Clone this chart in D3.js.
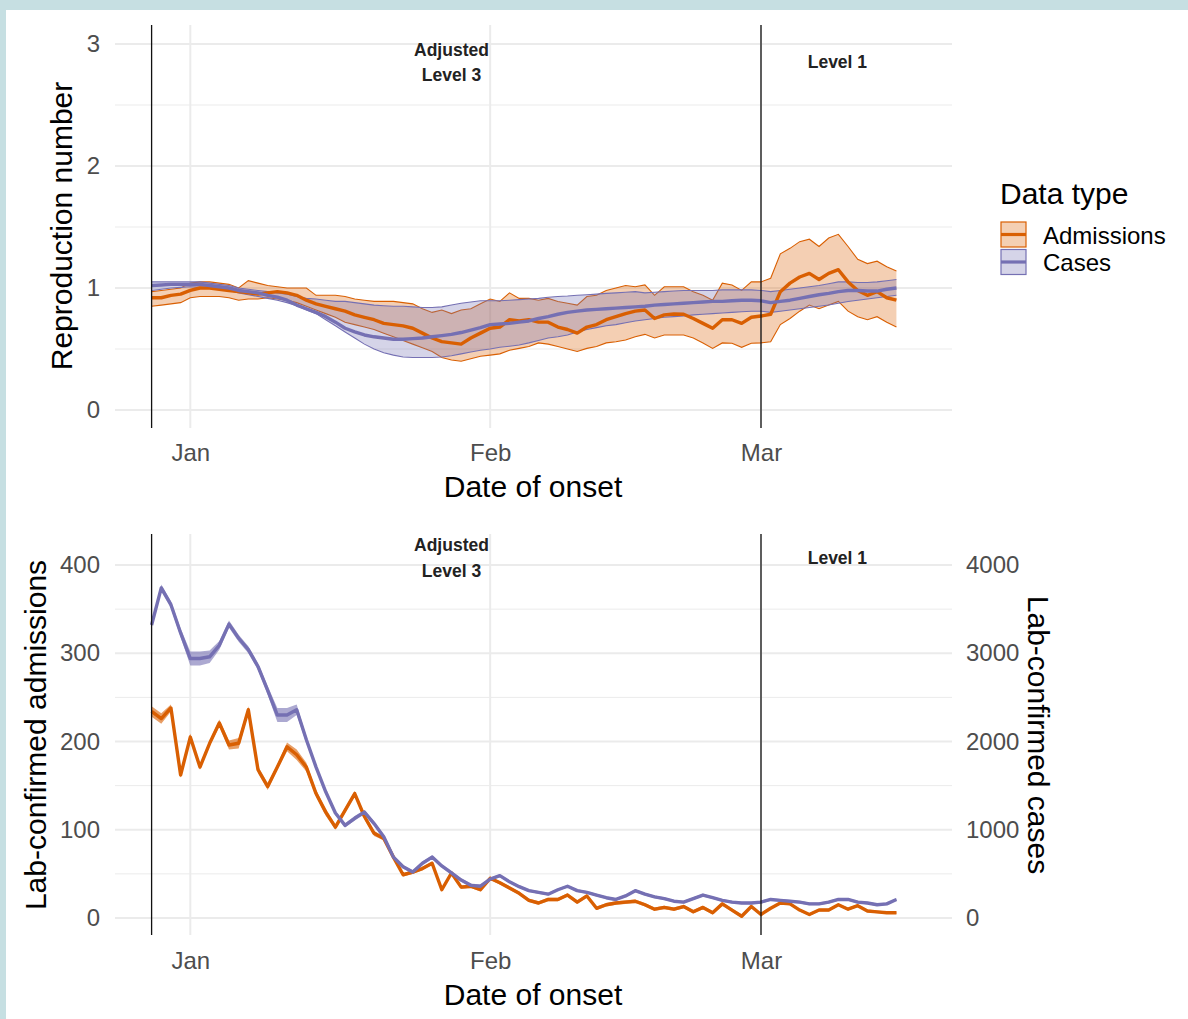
<!DOCTYPE html>
<html><head><meta charset="utf-8">
<script src="https://cdn.jsdelivr.net/npm/d3@7"></script>
<style>
html,body{margin:0;padding:0;background:#c6dfe2;}
svg{display:block;font-family:"Liberation Sans",Arial,sans-serif;}
</style></head><body>
<svg id="c" width="1188" height="1019"></svg>
<script>
// ---------------- data ----------------
const firstDay = "2020-12-28";           // daily series, Dec 28 .. Mar 15
const seriesNames = ["Admissions", "Cases"];
const seriesColors = ["#d95f02", "#7570b3"];
const monthTicks = ["2021-01-01", "2021-02-01", "2021-03-01"];
const monthLabels = ["Jan", "Feb", "Mar"];
const changeDates = ["2020-12-28", "2021-03-01"];
const phaseLabels = [["Adjusted", "Level 3"], ["Level 1"]];
const phaseDates = ["2021-01-28", "2021-03-09"];
const rTicks = [0, 1, 2, 3];
const admTicks = [0, 100, 200, 300, 400];
const caseTicks = [0, 1000, 2000, 3000, 4000];

// Reproduction number from admissions (median, lower, upper)
const admR = [0.92,0.92,0.94,0.95,
 0.98,1.00,1.00,0.99,0.98,0.97,0.96,0.95,0.96,0.97,0.96,0.94,0.90,0.87,0.85,0.83,0.81,0.78,0.76,0.74,0.71,0.70,0.69,0.67,0.63,0.59,0.56,0.55,0.54,0.59,0.63,
 0.67,0.68,0.74,0.73,0.74,0.72,0.72,0.68,0.66,0.63,0.68,0.70,0.74,0.765,0.79,0.81,0.82,0.75,0.78,0.787,0.785,0.75,0.71,0.67,0.74,0.74,0.71,0.76,
 0.77,0.785,0.97,1.04,1.09,1.12,1.07,1.12,1.15,1.05,0.98,0.94,0.97,0.92,0.90];
const admRlo = [0.85,0.86,0.87,0.88,
 0.92,0.93,0.93,0.93,0.92,0.90,0.91,0.91,0.92,0.91,0.90,0.88,0.85,0.82,0.79,0.76,0.72,0.70,0.68,0.66,0.63,0.60,0.57,0.54,0.51,0.48,0.43,0.41,0.40,0.42,0.44,
 0.45,0.46,0.49,0.505,0.52,0.55,0.54,0.52,0.50,0.48,0.505,0.52,0.55,0.56,0.574,0.60,0.62,0.59,0.615,0.615,0.615,0.59,0.55,0.505,0.55,0.547,0.514,0.547,
 0.55,0.56,0.70,0.75,0.81,0.86,0.83,0.86,0.89,0.81,0.765,0.74,0.765,0.72,0.68];
const admRhi = [0.97,0.98,0.99,1.00,
 1.04,1.05,1.05,1.04,1.03,1.00,1.06,1.04,1.02,1.01,1.00,1.00,1.00,0.94,0.94,0.94,0.93,0.91,0.90,0.89,0.89,0.89,0.88,0.87,0.83,0.80,0.82,0.79,0.82,0.83,0.87,
 0.91,0.89,0.96,0.915,0.915,0.90,0.915,0.89,0.875,0.86,0.93,0.94,0.98,1.00,1.02,1.01,1.025,0.94,1.01,1.01,1.01,0.97,0.94,0.90,1.04,1.025,0.98,1.05,
 1.05,1.08,1.28,1.325,1.38,1.40,1.34,1.41,1.44,1.34,1.235,1.20,1.22,1.175,1.14];

// Reproduction number from cases (median, lower, upper)
const caseR = [1.02,1.025,1.03,1.03,
 1.03,1.03,1.02,1.01,1.00,0.98,0.97,0.96,0.94,0.925,0.90,0.86,0.83,0.80,0.765,0.72,0.67,0.64,0.615,0.60,0.59,0.58,0.58,0.585,0.59,0.60,0.61,0.62,0.635,0.655,0.675,
 0.70,0.705,0.71,0.72,0.73,0.75,0.765,0.785,0.80,0.81,0.82,0.825,0.83,0.835,0.84,0.845,0.85,0.86,0.865,0.87,0.875,0.88,0.885,0.89,0.89,0.895,0.90,0.90,
 0.895,0.88,0.89,0.90,0.915,0.93,0.945,0.956,0.97,0.98,0.98,0.975,0.975,0.99,1.00];
const caseRlo = [0.98,0.99,1.00,1.005,
 1.01,1.005,1.00,0.99,0.98,0.96,0.945,0.93,0.915,0.90,0.88,0.855,0.82,0.79,0.74,0.69,0.64,0.59,0.54,0.50,0.47,0.45,0.435,0.43,0.43,0.43,0.435,0.445,0.46,0.475,0.49,
 0.50,0.514,0.523,0.533,0.55,0.57,0.59,0.60,0.615,0.64,0.66,0.675,0.69,0.70,0.715,0.73,0.74,0.75,0.76,0.765,0.77,0.78,0.785,0.79,0.795,0.80,0.805,0.81,
 0.81,0.80,0.81,0.82,0.83,0.84,0.85,0.86,0.875,0.89,0.90,0.91,0.92,0.93,0.94];
const caseRhi = [1.05,1.05,1.05,1.05,
 1.05,1.05,1.04,1.03,1.02,1.00,0.99,0.98,0.97,0.96,0.95,0.93,0.915,0.91,0.90,0.89,0.89,0.88,0.87,0.86,0.855,0.85,0.85,0.845,0.84,0.84,0.845,0.86,0.875,0.885,0.895,
 0.895,0.895,0.90,0.905,0.91,0.915,0.924,0.93,0.934,0.94,0.945,0.95,0.956,0.96,0.965,0.97,0.96,0.965,0.97,0.975,0.98,0.98,0.98,0.98,0.985,0.985,0.985,0.985,
 0.98,0.97,0.98,0.99,1.00,1.01,1.02,1.035,1.05,1.05,1.045,1.045,1.05,1.06,1.07];

// Lab-confirmed admissions per day and band half-width
const admissions = [234,226,238,162,
 205,171,198,221,196,198,236,168,149,171,194,185,171,141,120,103,122,141,115,96,90,69,49,52,56,62,32,51,35,36,32,
 45,40,34,28,20,17,21,21,26,18,25,11,15,17,18,19,15,10,12,10,13,7,12,6,16,9,2,13,
 4,11,17,16,9,4,9,9,15,10,14,8,7,6,6];
const admBand = [6,6,4,3,
 4,3,3,4,5,6,4,4,4,3,5,6,5,4,4,3,3,3,3,3,2,2,2,2,2,2,2,2,2,2,2,
 2,2,2,2,2,2,2,2,2,2,2,2,2,2,2,2,2,2,2,2,2,2,2,2,2,2,2,2,
 1.5,1.5,1.5,1.5,1.5,1.5,1.5,1.5,1.5,1.5,1.5,1.5,1.5,1.5,1.5];
// Lab-confirmed cases per day and band half-width
const cases = [3320,3740,3550,3230,
 2940,2940,2960,3090,3330,3170,3040,2850,2580,2300,2300,2360,2020,1710,1430,1190,1050,1130,1200,1070,920,690,580,520,620,690,590,510,430,370,360,
 440,480,410,355,310,290,270,320,360,310,290,260,230,210,250,310,270,240,220,190,180,220,260,230,200,180,170,170,
 180,210,200,190,180,160,160,180,210,210,180,170,150,160,210];
const caseBand = [30,40,40,50,
 80,80,70,50,40,40,40,40,50,80,80,60,40,30,25,25,25,25,25,25,20,20,20,20,20,20,20,20,20,20,20,
 15,15,15,15,15,15,15,15,15,15,15,15,15,15,15,15,15,15,15,15,15,15,15,15,15,15,15,15,
 15,15,15,15,15,15,15,15,15,15,15,15,15,15,15];

// ---------------- drawing ----------------
const parse = d3.utcParse("%Y-%m-%d");
const dates = admissions.map((_, i) => d3.utcDay.offset(parse(firstDay), i));
const svg = d3.select("#c");
svg.append("rect").attr("x", 6).attr("y", 10).attr("width", 1182).attr("height", 1009).attr("fill", "#fff");

const PL = 115, PR = 952;
const x = d3.scaleUtc().domain([parse("2020-12-28"), parse("2021-03-01")]).range([151.6, 761]);
const gridCol = "#ebebeb";
const tickCol = "#4d4d4d";

function hgrid(g, scale, major, minor) {
  g.selectAll(null).data(minor).join("line")
    .attr("x1", PL).attr("x2", PR).attr("y1", d => scale(d)).attr("y2", d => scale(d))
    .attr("stroke", gridCol).attr("stroke-width", 1);
  g.selectAll(null).data(major).join("line")
    .attr("x1", PL).attr("x2", PR).attr("y1", d => scale(d)).attr("y2", d => scale(d))
    .attr("stroke", gridCol).attr("stroke-width", 2);
}
function vgrid(g, y0, y1) {
  g.selectAll(null).data(monthTicks.map(parse)).join("line")
    .attr("x1", d => x(d)).attr("x2", d => x(d)).attr("y1", y0).attr("y2", y1)
    .attr("stroke", gridCol).attr("stroke-width", 2);
}
function vlines(g, y0, y1) {
  g.selectAll(null).data(changeDates.map(parse)).join("line")
    .attr("x1", d => x(d)).attr("x2", d => x(d)).attr("y1", y0).attr("y2", y1)
    .attr("stroke", "#111").attr("stroke-width", 1.3);
}
function phaseText(g, y1, y2, yLevel1) {
  const px = x(parse(phaseDates[0]));
  const t1 = g.append("text").attr("text-anchor", "middle")
    .attr("font-size", 17.5).attr("font-weight", "bold").attr("fill", "#222");
  t1.append("tspan").attr("x", px).attr("y", y1).text(phaseLabels[0][0]);
  t1.append("tspan").attr("x", px).attr("y", y2).text(phaseLabels[0][1]);
  g.append("text").attr("x", x(parse(phaseDates[1])) - 1).attr("y", yLevel1).attr("text-anchor", "middle")
    .attr("font-size", 17.5).attr("font-weight", "bold").attr("fill", "#222").text(phaseLabels[1][0]);
}
function xAxis(g, y) {
  const ax = d3.axisBottom(x).tickValues(monthTicks.map(parse)).tickFormat((d, i) => monthLabels[i])
    .tickSize(0).tickPadding(0);
  const a = g.append("g").attr("transform", `translate(0,${y})`).call(ax);
  a.select(".domain").remove();
  a.selectAll("text").attr("font-size", 24).attr("fill", tickCol);
  a.attr("font-family", null).attr("font-size", null);
}

// ===== Top panel: reproduction number =====
const yR = d3.scaleLinear().domain([0, 3]).range([410, 44]);
const gTop = svg.append("g");
hgrid(gTop, yR, rTicks, [0.5, 1.5, 2.5]);
vgrid(gTop, 25, 428);

const rSeries = [
  {name: seriesNames[0], color: seriesColors[0], med: admR, lo: admRlo, hi: admRhi},
  {name: seriesNames[1], color: seriesColors[1], med: caseR, lo: caseRlo, hi: caseRhi}
];
const areaR = d3.area().x(d => x(d.date)).y0(d => yR(d.lo)).y1(d => yR(d.hi));
const lineR = d3.line().x(d => x(d.date)).y(d => yR(d.v));
const lineLo = d3.line().x(d => x(d.date)).y(d => yR(d.lo));
const lineHi = d3.line().x(d => x(d.date)).y(d => yR(d.hi));
rSeries.forEach(s => {
  const pts = dates.map((d, i) => ({date: d, v: s.med[i], lo: s.lo[i], hi: s.hi[i]}));
  gTop.append("path").attr("d", areaR(pts)).attr("fill", s.color).attr("fill-opacity", 0.3);
  gTop.append("path").attr("d", lineLo(pts)).attr("fill", "none").attr("stroke", s.color).attr("stroke-width", 1.1);
  gTop.append("path").attr("d", lineHi(pts)).attr("fill", "none").attr("stroke", s.color).attr("stroke-width", 1.1);
});
rSeries.forEach(s => {
  const pts = dates.map((d, i) => ({date: d, v: s.med[i]}));
  gTop.append("path").attr("d", lineR(pts)).attr("fill", "none").attr("stroke", s.color)
    .attr("stroke-width", 3.4).attr("stroke-linejoin", "round");
});
vlines(gTop, 25, 428);
phaseText(gTop, 56, 81, 68);

const yAx1 = gTop.append("g").attr("transform", "translate(100,0)")
  .call(d3.axisLeft(yR).tickValues(rTicks).tickFormat(d3.format("d")).tickSize(0).tickPadding(0));
yAx1.select(".domain").remove();
yAx1.attr("font-family", null).attr("font-size", null);
yAx1.selectAll("text").attr("font-size", 24).attr("fill", tickCol);
xAxis(gTop, 443.5);

svg.append("text").attr("x", 533).attr("y", 497).attr("text-anchor", "middle")
  .attr("font-size", 30).attr("fill", "#000").text("Date of onset");
svg.append("text").attr("transform", "translate(72,226) rotate(-90)").attr("text-anchor", "middle")
  .attr("font-size", 30).attr("fill", "#000").text("Reproduction number");

// Legend
const leg = svg.append("g");
leg.append("text").attr("x", 1000).attr("y", 204).attr("font-size", 30).attr("fill", "#000").text("Data type");
seriesNames.forEach((nm, i) => {
  const ky = 222 + i * 27.5;
  leg.append("rect").attr("x", 1001).attr("y", ky).attr("width", 25).attr("height", 25)
    .attr("fill", seriesColors[i]).attr("fill-opacity", 0.3).attr("stroke", seriesColors[i]).attr("stroke-width", 1.2);
  leg.append("line").attr("x1", 1001).attr("x2", 1026).attr("y1", ky + 12.5).attr("y2", ky + 12.5)
    .attr("stroke", seriesColors[i]).attr("stroke-width", 3.2);
  leg.append("text").attr("x", 1043).attr("y", ky + 21.5).attr("font-size", 24).attr("fill", "#000").text(nm);
});

// ===== Bottom panel: lab-confirmed counts =====
const yA = d3.scaleLinear().domain([0, 400]).range([918, 565]);
const yC = d3.scaleLinear().domain([0, 4000]).range([918, 565]);
const gBot = svg.append("g");
hgrid(gBot, yA, admTicks, [50, 150, 250, 350]);
vgrid(gBot, 534, 935);

const cSeries = [
  {color: seriesColors[0], y: yA, v: admissions, w: admBand},
  {color: seriesColors[1], y: yC, v: cases, w: caseBand}
];
cSeries.forEach(s => {
  const pts = dates.map((d, i) => ({date: d, v: s.v[i], w: s.w[i]}));
  const ar = d3.area().x(d => x(d.date)).y0(d => s.y(d.v - d.w)).y1(d => s.y(d.v + d.w));
  gBot.append("path").attr("d", ar(pts)).attr("fill", s.color).attr("fill-opacity", 0.6);
});
cSeries.forEach(s => {
  const pts = dates.map((d, i) => ({date: d, v: s.v[i]}));
  const ln = d3.line().x(d => x(d.date)).y(d => s.y(d.v));
  gBot.append("path").attr("d", ln(pts)).attr("fill", "none").attr("stroke", s.color)
    .attr("stroke-width", 3.4).attr("stroke-linejoin", "round");
});
vlines(gBot, 534, 935);
phaseText(gBot, 551, 577, 564);

const yAx2 = gBot.append("g").attr("transform", "translate(100,0)")
  .call(d3.axisLeft(yA).tickValues(admTicks).tickSize(0).tickPadding(0));
yAx2.select(".domain").remove();
yAx2.attr("font-family", null).attr("font-size", null);
yAx2.selectAll("text").attr("font-size", 24).attr("fill", tickCol);
const yAx3 = gBot.append("g").attr("transform", "translate(966,0)")
  .call(d3.axisRight(yC).tickValues(caseTicks).tickFormat(d3.format("d")).tickSize(0).tickPadding(0));
yAx3.select(".domain").remove();
yAx3.attr("font-family", null).attr("font-size", null);
yAx3.selectAll("text").attr("font-size", 24).attr("fill", tickCol);
xAxis(gBot, 951.5);

svg.append("text").attr("x", 533).attr("y", 1005).attr("text-anchor", "middle")
  .attr("font-size", 30).attr("fill", "#000").text("Date of onset");
svg.append("text").attr("transform", "translate(46,735) rotate(-90)").attr("text-anchor", "middle")
  .attr("font-size", 30).attr("fill", "#000").text("Lab-confirmed admissions");
svg.append("text").attr("transform", "translate(1028,735) rotate(90)").attr("text-anchor", "middle")
  .attr("font-size", 30).attr("fill", "#000").text("Lab-confirmed cases");
</script>
</body></html>
